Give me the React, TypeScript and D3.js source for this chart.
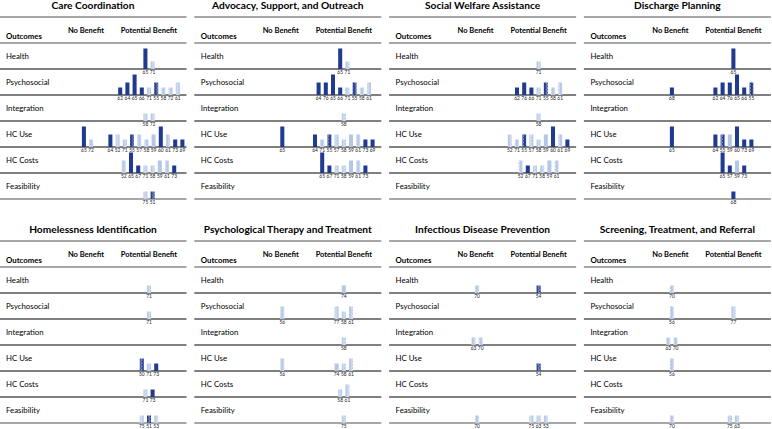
import React from "react";
import * as d3 from "d3";

// ---------- DATA ----------
const panelTitles = [
  "Care Coordination",
  "Advocacy, Support, and Outreach",
  "Social Welfare Assistance",
  "Discharge Planning",
  "Homelessness Identification",
  "Psychological Therapy and Treatment",
  "Infectious Disease Prevention",
  "Screening, Treatment, and Referral",
];
const outcomes = ["Health", "Psychosocial", "Integration", "HC Use", "HC Costs", "Feasibility"];
const columnLabels = ["No Benefit", "Potential Benefit"];
const levels = [0, 1, 2, 3];
// style keys: D = dark solid, L = light solid, DH = dark patterned, LH = light patterned
type Study = [string, number, string];
type Cell = [string, number, Study[]];

const careCoordination: Cell[] = [
  ["Health", 1, [["65", 3, "D"], ["71", 1, "LH"]]],
  ["Psychosocial", 1, [["62", 1, "D"], ["64", 2, "D"], ["65", 3, "D"], ["66", 1, "D"], ["71", 1, "LH"], ["55", 2, "DH"], ["58", 1, "LH"], ["72", 1, "LH"], ["61", 2, "LH"]]],
  ["Integration", 1, [["58", 1, "LH"], ["72", 1, "LH"]]],
  ["HC Use", 0, [["65", 3, "D"], ["72", 1, "LH"]]],
  ["HC Use", 1, [["64", 2, "D"], ["52", 2, "LH"], ["71", 1, "LH"], ["55", 2, "DH"], ["57", 2, "LH"], ["58", 1, "LH"], ["59", 2, "L"], ["60", 3, "D"], ["61", 2, "LH"], ["73", 1, "D"], ["69", 1, "D"]]],
  ["HC Costs", 1, [["52", 2, "LH"], ["65", 3, "D"], ["67", 1, "D"], ["71", 1, "LH"], ["58", 1, "LH"], ["59", 2, "L"], ["61", 2, "LH"], ["73", 1, "D"]]],
  ["Feasibility", 1, [["75", 1, "LH"], ["51", 1, "DH"]]],
];
const advocacy: Cell[] = [
  ["Health", 1, [["65", 3, "D"], ["71", 1, "LH"]]],
  ["Psychosocial", 1, [["64", 2, "D"], ["76", 2, "D"], ["65", 3, "D"], ["66", 1, "D"], ["71", 1, "LH"], ["55", 2, "DH"], ["58", 1, "LH"], ["61", 2, "LH"]]],
  ["Integration", 1, [["58", 1, "LH"]]],
  ["HC Use", 0, [["65", 3, "D"]]],
  ["HC Use", 1, [["64", 2, "D"], ["71", 1, "LH"], ["55", 2, "DH"], ["57", 2, "LH"], ["58", 1, "LH"], ["59", 2, "L"], ["61", 2, "LH"], ["73", 1, "D"], ["69", 1, "D"]]],
  ["HC Costs", 1, [["65", 3, "D"], ["67", 1, "D"], ["71", 1, "LH"], ["58", 1, "LH"], ["59", 2, "L"], ["61", 2, "LH"], ["73", 1, "D"]]],
];
const socialWelfare: Cell[] = [
  ["Health", 1, [["71", 1, "LH"]]],
  ["Psychosocial", 1, [["62", 1, "D"], ["76", 2, "D"], ["66", 1, "D"], ["71", 1, "LH"], ["55", 2, "DH"], ["58", 1, "LH"], ["61", 2, "LH"]]],
  ["Integration", 1, [["58", 1, "LH"]]],
  ["HC Use", 1, [["52", 2, "LH"], ["71", 1, "LH"], ["55", 2, "DH"], ["57", 2, "LH"], ["58", 1, "LH"], ["59", 2, "L"], ["60", 3, "D"], ["61", 2, "LH"], ["69", 1, "D"]]],
  ["HC Costs", 1, [["52", 2, "LH"], ["67", 1, "D"], ["71", 1, "LH"], ["58", 1, "LH"], ["59", 2, "L"], ["61", 2, "LH"]]],
];
const dischargePlanning: Cell[] = [
  ["Health", 1, [["65", 3, "D"]]],
  ["Psychosocial", 0, [["68", 1, "D"]]],
  ["Psychosocial", 1, [["62", 1, "D"], ["64", 2, "D"], ["76", 2, "D"], ["65", 3, "D"], ["66", 1, "D"], ["55", 2, "DH"]]],
  ["HC Use", 0, [["65", 3, "D"]]],
  ["HC Use", 1, [["64", 2, "D"], ["55", 2, "DH"], ["59", 2, "L"], ["60", 3, "D"], ["73", 1, "D"], ["69", 1, "D"]]],
  ["HC Costs", 1, [["65", 3, "D"], ["57", 1, "D"], ["59", 2, "L"], ["73", 1, "D"]]],
  ["Feasibility", 1, [["68", 1, "D"]]],
];
const homelessness: Cell[] = [
  ["Health", 1, [["71", 1, "LH"]]],
  ["Psychosocial", 1, [["71", 1, "LH"]]],
  ["HC Use", 1, [["50", 2, "DH"], ["71", 1, "LH"], ["73", 1, "D"]]],
  ["HC Costs", 1, [["71", 1, "LH"], ["73", 1, "D"]]],
  ["Feasibility", 1, [["75", 1, "LH"], ["51", 1, "DH"], ["53", 1, "LH"]]],
];
const psychTherapy: Cell[] = [
  ["Health", 1, [["74", 1, "L"]]],
  ["Psychosocial", 0, [["56", 2, "LH"]]],
  ["Psychosocial", 1, [["77", 2, "LH"], ["58", 1, "LH"], ["61", 2, "LH"]]],
  ["Integration", 1, [["58", 1, "LH"]]],
  ["HC Use", 0, [["56", 2, "LH"]]],
  ["HC Use", 1, [["74", 1, "L"], ["58", 1, "LH"], ["61", 2, "LH"]]],
  ["HC Costs", 1, [["58", 1, "LH"], ["61", 2, "LH"]]],
  ["Feasibility", 1, [["75", 1, "LH"]]],
];
const infectious: Cell[] = [
  ["Health", 0, [["70", 1, "LH"]]],
  ["Health", 1, [["54", 1, "DH"]]],
  ["Integration", 0, [["63", 1, "LH"], ["70", 1, "LH"]]],
  ["HC Use", 1, [["54", 1, "DH"]]],
  ["Feasibility", 0, [["70", 1, "LH"]]],
  ["Feasibility", 1, [["75", 1, "LH"], ["63", 1, "LH"], ["53", 1, "LH"]]],
];
const screening: Cell[] = [
  ["Health", 0, [["70", 1, "LH"]]],
  ["Psychosocial", 0, [["56", 2, "LH"]]],
  ["Psychosocial", 1, [["77", 2, "LH"]]],
  ["Integration", 0, [["63", 1, "LH"], ["70", 1, "LH"]]],
  ["HC Use", 0, [["56", 2, "LH"]]],
  ["Feasibility", 0, [["70", 1, "LH"]]],
  ["Feasibility", 1, [["75", 1, "LH"], ["63", 1, "LH"]]],
];
const panelData: Cell[][] = [careCoordination, advocacy, socialWelfare, dischargePlanning, homelessness, psychTherapy, infectious, screening];

// ---------- STYLE ----------
const W = 772, H = 429;
const PW = 187, PSTEP_X = 194.8, PSTEP_Y = 224, P0X = -0.5;
const DARK = "#1F3A8F", LIGHT = "#B4C7E7";
const FONT = "Lato, 'Open Sans', sans-serif";
const fills: Record<string, string> = { D: DARK, L: LIGHT, DH: "url(#patD)", LH: "url(#patL)" };
const SLOT = 7.2;

const yRow = d3.scaleBand<string>().domain(outcomes).range([43, 199]).padding(0);
const hLevel = d3.scaleOrdinal<number, number>().domain(levels).range([0, 7.5, 12.5, 20.5]);
const colCenter = d3.scaleOrdinal<number, number>().domain([0, 1]).range([88, 149.5]);

function Panel({ idx }: { idx: number }) {
  const px = P0X + (idx % 4) * PSTEP_X;
  const py = Math.floor(idx / 4) * PSTEP_Y;
  const cells = panelData[idx];
  return (
    <g transform={`translate(${px},${py})`}>
      <text x={PW / 2} y={8.5} textAnchor="middle" fontSize={10.2} fontWeight="bold" fill="#000">{panelTitles[idx]}</text>
      <line x1={0} x2={PW} y1={17} y2={17} stroke="#8a8a8a" strokeWidth={1.5} />
      <text x={6.5} y={38.5} fontSize={7.8} fontWeight="bold">Outcomes</text>
      {columnLabels.map((c, i) => (
        <text key={c} x={i === 0 ? 86.5 : 149.5} y={33} textAnchor="middle" fontSize={7.5} fontWeight="bold">{c}</text>
      ))}
      <line x1={0} x2={PW} y1={43} y2={43} stroke="#8a8a8a" strokeWidth={1.5} />
      {outcomes.map((o, i) => {
        const y0 = yRow(o)!;
        const y1 = y0 + yRow.bandwidth();
        const last = i === outcomes.length - 1;
        return (
          <g key={o}>
            <text x={6.5} y={y0 + yRow.bandwidth() / 2 + 2.8} fontSize={7.8}>{o}</text>
            <line x1={0} x2={PW} y1={y1} y2={y1} stroke={last ? "#8a8a8a" : "#000"} strokeWidth={last ? 1.5 : 1} />
          </g>
        );
      })}
      {cells.map(([o, col, studies], k) => {
        const base = yRow(o)! + yRow.bandwidth();
        const n = studies.length;
        let c = colCenter(col);
        const right = c + (n * SLOT) / 2;
        if (right > 186.5) c -= right - 186.5;
        const x = d3.scaleBand<number>().domain(d3.range(n)).range([c - (n * SLOT) / 2, c + (n * SLOT) / 2]).paddingInner(0.44).paddingOuter(0.22);
        return (
          <g key={k}>
            {studies.map(([lab, lv, st], j) => {
              const h = hLevel(lv);
              return (
                <g key={j}>
                  <rect x={x(j)!} y={base - h} width={x.bandwidth()} height={h} fill={fills[st]} />
                  <text x={x(j)! + x.bandwidth() / 2} y={base + 5.2} textAnchor="middle" fontSize={4.9} fill="#222">{lab}</text>
                </g>
              );
            })}
          </g>
        );
      })}
    </g>
  );
}

export default function App() {
  return (
    <svg width={W} height={H} style={{ position: "absolute", left: 0, top: 0, background: "#fff" }} fontFamily={FONT}>
      <defs>
        <pattern id="patL" width={4} height={3.2} patternUnits="userSpaceOnUse">
          <rect width={4} height={3.2} fill={LIGHT} />
          <path d="M1,0.2 L2.6,1.6 L1,3" stroke="#fff" strokeWidth={0.8} fill="none" />
        </pattern>
        <pattern id="patD" width={4} height={3.2} patternUnits="userSpaceOnUse">
          <rect width={4} height={3.2} fill={DARK} />
          <path d="M1,0.2 L2.6,1.6 L1,3" stroke="#fff" strokeWidth={0.7} fill="none" />
        </pattern>
      </defs>
      <rect width={W} height={H} fill="#fff" />
      {panelTitles.map((_, i) => <Panel key={i} idx={i} />)}
    </svg>
  );
}
